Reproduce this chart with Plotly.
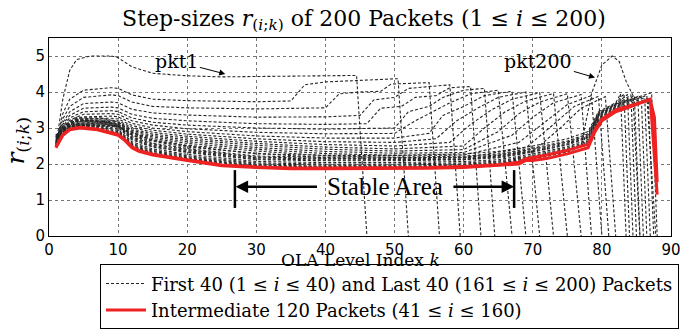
import plotly.graph_objects as go

# ---------------- data ----------------
# First-40 packets (representative curves): (k values, step sizes)
first_k = [
    [1,2,3,4,6,9,10,12,15,20,25,30,35,40,44.5,46],
    [1,2,3,5,9,10,12,15,20,30,35,37,40,45,50.5,52],
    [1,2,3,5,9,10,12,15,20,30,40,42,45,48,49.5,55,56.5],
    [1,2,3,5,9,10,12,15,20,30,40,45,47,50,52,58,59.5],
    [1,2,3,5,9,10,12,15,20,30,40,46,48,51,53,56,58,61,62.5],
    [1,2,3,5,9,10,12,15,20,30,40,50,52,55,57,60,63,64.5],
    [1,2,3,5,9,10,12,15,20,30,40,50,53,56,58,61,65,67],
    [1,2,3,5,9,10,12,15,20,30,40,50,55,57,60,63,67,69],
    [1,2,3,5,9,10,12,15,20,30,40,50,56,59,62,65,69,71],
    [1,2,3,5,9,10,12,15,20,30,40,50,58,61,64,67,71,73],
    [1,2,3,5,9,10,12,15,20,30,40,50,60,63,66,69,73,75],
    [1,2,3,5,9,10,12,15,20,30,40,50,60,65,68,71,75,77],
    [1,2,3,5,9,10,12,15,20,30,40,50,60,67,70,73,77,78.5],
    [1,2,3,5,9,10,12,15,20,30,40,50,60,68,72,75,78.5,80],
    [1,2,3,5,9,10,12,15,20,30,40,50,60,69,73,76,79.5,81],
    [1,2,3,5,9,10,12,15,20,30,40,50,60,70,74,77,80.5,82],
]
first_r = [
    [2.5,3.8,4.6,4.9,5.0,5.0,4.95,4.7,4.52,4.45,4.42,4.43,4.45,4.46,4.46,0],
    [2.55,3.4,3.8,4.05,4.12,4.1,3.92,3.8,3.76,3.73,3.75,4.2,4.28,4.33,4.37,0],
    [2.6,3.25,3.6,3.85,3.92,3.9,3.72,3.6,3.56,3.53,3.56,3.95,4.0,4.02,4.22,4.26,0],
    [2.65,3.15,3.45,3.68,3.72,3.7,3.52,3.42,3.36,3.3,3.31,3.35,3.78,3.85,4.1,4.2,0],
    [2.7,3.1,3.35,3.55,3.58,3.56,3.38,3.27,3.2,3.12,3.1,3.12,3.55,3.6,3.85,3.9,4.12,4.15,0],
    [2.75,3.05,3.28,3.45,3.48,3.46,3.28,3.16,3.08,3.0,2.97,3.0,3.45,3.6,3.85,4.05,4.1,0],
    [2.75,3.0,3.22,3.38,3.4,3.38,3.2,3.08,2.98,2.88,2.84,2.85,3.2,3.5,3.7,3.95,4.05,0],
    [2.78,2.98,3.18,3.31,3.33,3.31,3.13,3.0,2.9,2.78,2.72,2.72,2.85,3.35,3.6,3.9,4.02,0],
    [2.8,2.96,3.14,3.26,3.27,3.25,3.07,2.94,2.83,2.7,2.62,2.6,2.7,3.2,3.55,3.85,4.0,0],
    [2.8,2.94,3.1,3.21,3.22,3.2,3.02,2.88,2.77,2.63,2.54,2.5,2.6,3.1,3.5,3.8,3.98,0],
    [2.8,2.93,3.07,3.17,3.18,3.16,2.98,2.83,2.72,2.57,2.47,2.42,2.5,3.0,3.45,3.75,3.96,0],
    [2.78,2.92,3.05,3.14,3.15,3.13,2.94,2.79,2.67,2.52,2.41,2.36,2.4,2.9,3.4,3.72,3.95,0],
    [2.76,2.91,3.03,3.11,3.12,3.1,2.9,2.75,2.62,2.46,2.35,2.3,2.32,2.8,3.3,3.7,3.93,0],
    [2.74,2.9,3.02,3.09,3.09,3.07,2.87,2.71,2.57,2.41,2.29,2.24,2.25,2.6,3.2,3.65,3.9,0],
    [2.72,2.89,3.01,3.07,3.07,3.05,2.84,2.67,2.52,2.36,2.23,2.18,2.18,2.45,3.1,3.6,3.88,0],
    [2.7,2.88,3.0,3.05,3.05,3.03,2.81,2.63,2.47,2.3,2.17,2.12,2.12,2.35,3.0,3.55,3.87,0],
]

# Last-40 packets (representative curves); the final one is pkt200
last_k = [
    [1,2,4,7,10,12,15,20,30,40,50,60,65,70,75,78,79.5,82,82.7,83.5],
    [1,2,4,7,10,12,15,20,30,40,50,60,65,70,75,78,79.5,82,83.2,84],
    [1,2,4,7,10,12,15,20,30,40,50,60,65,70,75,78,79.5,82,83.7,84.5],
    [1,2,4,7,10,12,15,20,30,40,50,60,65,70,75,78,79.5,82,84.2,85],
    [1,2,4,7,10,12,15,20,30,40,50,60,65,70,75,78,79.5,82,84.7,85.5],
    [1,2,4,7,10,12,15,20,30,40,50,60,65,70,75,78,79.5,82,85.2,86],
    [1,2,4,7,10,12,15,20,30,40,50,60,65,70,75,78,79.5,82,85.7,86.5],
    [1,2,4,7,10,12,15,20,30,40,50,60,65,70,75,78,79.5,82,86.2,87],
    [1,2,4,7,10,12,15,20,30,40,50,60,65,70,75,78,79.5,82,86.7,87.5],
    [1,2,4,7,10,12,15,20,30,40,50,60,65,70,75,78,79.5,82,87.2,88],
    [1,2,4,7,10,12,15,20,30,40,50,60,65,70,75,78,79.5,82,86.5,87.8],
    [1,2,4,7,10,12,15,20,30,40,50,60,65,70,75,77,78.5,80,81.5,82.5,83.5,84.5,85.5],
]
last_r = [
    [2.65,3.05,3.3,3.3,3.17,2.88,2.65,2.5,2.28,2.24,2.24,2.28,2.35,2.5,2.7,2.9,3.45,3.7,3.95,0],
    [2.62,3.02,3.26,3.25,3.11,2.8,2.58,2.43,2.22,2.19,2.19,2.22,2.28,2.44,2.64,2.84,3.42,3.68,3.95,0],
    [2.6,2.98,3.22,3.2,3.06,2.73,2.52,2.37,2.17,2.14,2.14,2.17,2.22,2.38,2.58,2.78,3.38,3.66,3.93,0],
    [2.57,2.95,3.18,3.16,3.01,2.67,2.47,2.32,2.12,2.09,2.09,2.12,2.17,2.33,2.53,2.73,3.35,3.63,3.92,0],
    [2.55,2.92,3.14,3.12,2.96,2.62,2.42,2.27,2.07,2.04,2.04,2.07,2.12,2.28,2.48,2.68,3.32,3.6,3.9,0],
    [2.53,2.9,3.11,3.08,2.93,2.58,2.38,2.23,2.03,2.0,2.0,2.03,2.08,2.24,2.44,2.64,3.29,3.58,3.88,0],
    [2.51,2.88,3.09,3.05,2.9,2.55,2.35,2.2,2.0,1.97,1.97,2.0,2.05,2.21,2.41,2.6,3.26,3.56,3.86,0],
    [2.5,2.86,3.07,3.02,2.87,2.52,2.32,2.17,1.97,1.94,1.94,1.97,2.02,2.18,2.38,2.57,3.23,3.53,3.84,0],
    [2.49,2.85,3.05,3.0,2.85,2.5,2.3,2.15,1.95,1.92,1.92,1.95,2.0,2.15,2.35,2.55,3.2,3.5,3.82,0],
    [2.63,3.0,3.24,3.22,3.08,2.76,2.55,2.4,2.19,2.16,2.16,2.19,2.25,2.41,2.61,2.81,3.4,3.67,3.98,0],
    [2.58,2.96,3.2,3.18,3.03,2.7,2.49,2.34,2.14,2.11,2.11,2.14,2.19,2.35,2.55,2.75,3.36,3.64,3.9,0],
    [2.48,2.84,3.03,2.98,2.83,2.48,2.28,2.13,1.93,1.9,1.9,1.93,1.98,2.13,2.33,2.52,3.95,4.75,5.0,4.85,4.3,3.9,0],
]

# Intermediate 120 packets (red band)
mid_k = [
    [1,2,3,4.5,7,10,11,12,13,15,20,25,30,35,40,50,55,60,65,68,69,70,72,75,78,79,80,82,84,87,88],
    [1,2,3,4.5,7,10,11,12,13,15,20,25,30,35,40,50,55,60,65,68,69,70,72,75,78,79,80,82,84,87,87.6,88],
]
mid_r = [
    [2.45,2.8,2.95,3.0,2.95,2.8,2.65,2.45,2.35,2.25,2.1,1.95,1.9,1.87,1.87,1.87,1.88,1.9,1.95,2.0,2.1,2.1,2.15,2.28,2.45,2.9,3.2,3.45,3.58,3.8,1.15],
    [2.47,2.82,2.97,3.02,2.97,2.82,2.67,2.48,2.38,2.27,2.12,1.97,1.92,1.89,1.89,1.89,1.9,1.93,1.98,2.05,2.15,2.18,2.25,2.38,2.55,2.95,3.25,3.5,3.62,3.78,3.3,1.5],
]

x_ticks = [0, 10, 20, 30, 40, 50, 60, 70, 80, 90]
y_ticks = [0, 1, 2, 3, 4, 5]

SERIF = "DejaVu Serif, serif"
SERIF2 = "Liberation Serif, serif"
SANS = "DejaVu Sans, sans-serif"
DASH_COLOR = "#262626"
RED = "#ee2222"

fig = go.Figure()

label_dash = "First 40 (1 ≤ <i>i</i> ≤ 40) and Last 40 (161 ≤ <i>i</i> ≤ 200) Packets"
label_red = "Intermediate 120 Packets (41 ≤ <i>i</i> ≤ 160)"

all_dash = list(zip(first_k, first_r)) + list(zip(last_k, last_r))
for n, (kk, rr) in enumerate(all_dash):
    fig.add_trace(go.Scatter(
        x=kk, y=rr, mode="lines",
        line=dict(color=DASH_COLOR, width=1.1, dash="3px,2px"),
        name=label_dash, legendgroup="dash", showlegend=(n == 0),
        hoverinfo="skip"))

for n, (kk, rr) in enumerate(zip(mid_k, mid_r)):
    fig.add_trace(go.Scatter(
        x=kk, y=rr, mode="lines",
        line=dict(color=RED, width=3),
        name=label_red, legendgroup="red", showlegend=(n == 0),
        hoverinfo="skip"))

axis_common = dict(
    showline=True, linecolor="black", linewidth=1, mirror=True,
    showgrid=True, gridcolor="#777", griddash="dot", gridwidth=1,
    zeroline=False, ticks="", ticklen=0,
    tickfont=dict(family=SANS, size=15, color="black"),
)
fig.update_xaxes(range=[0, 90], tickvals=x_ticks, **axis_common)
fig.update_yaxes(range=[0, 5.5], tickvals=y_ticks, **axis_common)

ARROW = "black"
annotations = [
    # axis titles
    dict(x=0.5, y=-0.122, xref="paper", yref="paper", xanchor="center", yanchor="middle",
         text="OLA Level Index <i>k</i>", showarrow=False, borderpad=0,
         font=dict(family=SERIF, size=17, color="black")),
    dict(x=-0.052, y=0.48, xref="paper", yref="paper", xanchor="center", yanchor="middle",
         textangle=-90,
         text="<i>r</i><sub>(<i>i</i>;<i>k</i>)</sub>", showarrow=False,
         font=dict(family=SERIF, size=25, color="black")),
    # packet labels
    dict(x=25.5, y=4.5, ax=18.5, ay=4.85, xref="x", yref="y", axref="x", ayref="y",
         text="pkt1", showarrow=True, arrowhead=2, arrowsize=1.2, arrowwidth=1,
         arrowcolor=ARROW, font=dict(family=SERIF, size=19, color="black")),
    dict(x=79.0, y=4.4, ax=70.8, ay=4.86, xref="x", yref="y", axref="x", ayref="y",
         text="pkt200", showarrow=True, arrowhead=2, arrowsize=1.2, arrowwidth=1,
         arrowcolor=ARROW, font=dict(family=SERIF, size=19, color="black")),
    # stable area
    dict(x=48.6, y=1.37, xref="x", yref="y", text="Stable Area", showarrow=False,
         font=dict(family=SERIF2, size=25, color="black")),
    dict(x=27.0, y=1.37, ax=39.0, ay=1.37, xref="x", yref="y", axref="x", ayref="y",
         text="", showarrow=True, arrowhead=2, arrowsize=1.0, arrowwidth=2.5,
         arrowcolor=ARROW, standoff=0),
    dict(x=67.3, y=1.37, ax=58.3, ay=1.37, xref="x", yref="y", axref="x", ayref="y",
         text="", showarrow=True, arrowhead=2, arrowsize=1.0, arrowwidth=2.5,
         arrowcolor=ARROW, standoff=0),
]
shapes = [
    dict(type="line", xref="x", yref="y", x0=26.9, x1=26.9, y0=0.78, y1=1.83,
         line=dict(color="black", width=2.5)),
    dict(type="line", xref="x", yref="y", x0=67.3, x1=67.3, y0=0.78, y1=1.83,
         line=dict(color="black", width=2.5)),
]

fig.update_layout(
    width=683, height=329,
    margin=dict(l=49, r=12, t=38, b=93, autoexpand=False),
    paper_bgcolor="white", plot_bgcolor="white",
    title=dict(text="Step-sizes <i>r</i><sub>(<i>i</i>;<i>k</i>)</sub> of 200 Packets (1 ≤ <i>i</i> ≤ 200)",
               x=0.533, xanchor="center", y=0.945, yanchor="middle",
               font=dict(family=SERIF, size=22, color="black")),
    legend=dict(x=0.082, y=-0.143, xanchor="left", yanchor="top",
                bordercolor="black", borderwidth=1, bgcolor="white",
                font=dict(family=SERIF, size=18, color="black"),
                tracegroupgap=0, itemwidth=40),
    annotations=annotations, shapes=shapes,
    showlegend=True,
)

fig.write_html("out.html")
